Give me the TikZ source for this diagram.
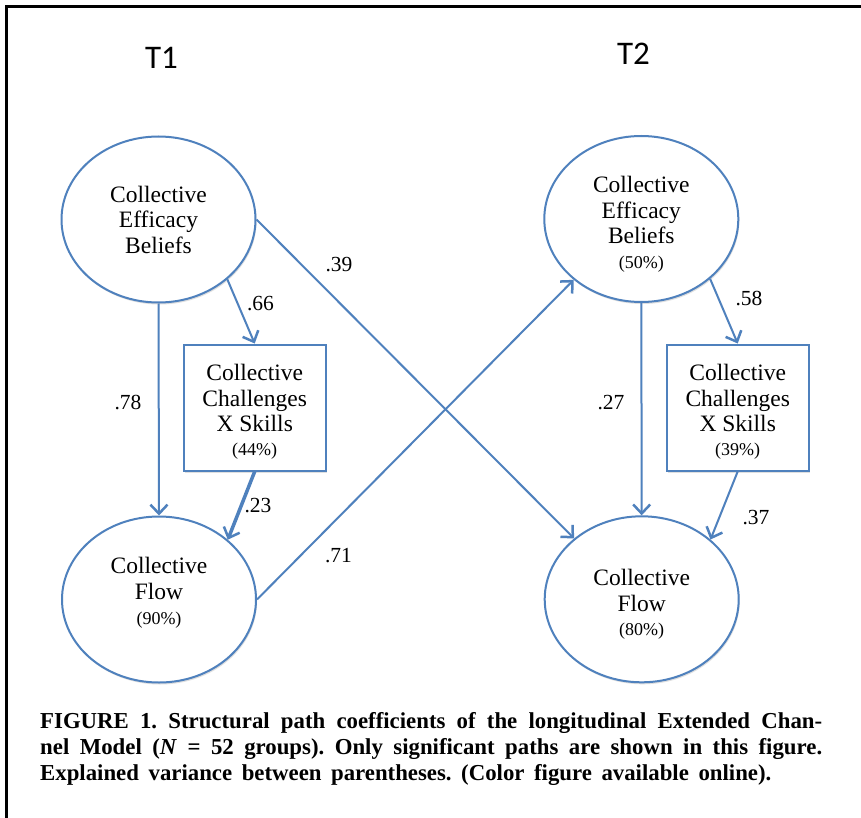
\documentclass[tikz,border=0pt]{standalone}
\usepackage{fontspec}
\setmainfont{Liberation Serif}
\newfontfamily\tfont{Carlito}
\usetikzlibrary{shapes.geometric,arrows.meta,shadows}
\definecolor{pathblue}{RGB}{79,129,189}
\begin{document}
\begin{tikzpicture}[x=1pt,y=-1pt,
  latent/.style={ellipse, draw=pathblue, line width=2pt, fill=white,
    minimum width=194pt, minimum height=166pt, inner sep=0pt, align=center,
    font=\fontsize{23.5}{25.5}\selectfont,
    drop shadow={shadow xshift=1pt, shadow yshift=-2pt, opacity=0.25}},
  observed/.style={rectangle, draw=pathblue, line width=2pt, fill=white,
    minimum width=142pt, minimum height=126pt, inner sep=0pt, align=center,
    font=\fontsize{23.5}{25.5}\selectfont,
    drop shadow={shadow xshift=1pt, shadow yshift=-2pt, opacity=0.25}},
  conn/.style={draw=pathblue, line width=2pt,
    -{Straight Barb[length=9pt,width=17pt,line width=2.5pt]}},
  thickconn/.style={conn, line width=3.5pt},
  coef/.style={font=\fontsize{21.5}{21.5}\selectfont, inner sep=0pt},
  timelabel/.style={font=\tfont\fontsize{33}{33}\selectfont, inner sep=0pt}
  ]
\useasboundingbox (0,0) rectangle (861,818);
\fill[white] (0,0) rectangle (861,818);
\draw[line width=3pt] (6.5,818) -- (6.5,6.5) -- (861,6.5);

\node[timelabel] (t1) at (161.5,57.5) {T1};
\node[timelabel] (t2) at (633.5,53.5) {T2};

\node[latent] (eff1) at (158.5,219.5) {Collective\\Efficacy\\Beliefs};
\node[latent] (flow1) at (159,599.5) {Collective\\Flow\\{\fontsize{18}{20}\selectfont (90\%)}\\[-9pt]};
\node[latent] (eff2) at (641.3,219) {\mbox{}\\[1pt]Collective\\Efficacy\\Beliefs\\[-1pt]{\fontsize{18}{20}\selectfont (50\%)}};
\node[latent] (flow2) at (641.7,599.3) {\mbox{}\\[1pt]Collective\\Flow\\[-1pt]{\fontsize{18}{20}\selectfont (80\%)}};

\node[observed] (cs1) at (254.7,407.5) {\mbox{}\\[-1pt]Collective\\Challenges\\X Skills\\[-2pt]{\fontsize{18}{20}\selectfont (44\%)}};
\node[observed] (cs2) at (737.7,407.5) {\mbox{}\\[-1pt]Collective\\Challenges\\X Skills\\[-2pt]{\fontsize{18}{20}\selectfont (39\%)}};

\draw[conn] (eff1.south) -- (flow1.north);
\draw[conn] (eff1.-41.5) -- (cs1.north);
\draw[thickconn] (cs1.south) -- (flow1.41.7);
\draw[conn] (eff1.east) -- (flow2.138.8);
\draw[conn] (flow1.east) -- (eff2.-138.8);
\draw[conn] (eff2.south) -- (flow2.north);
\draw[conn] (eff2.-41.7) -- (cs2.north);
\draw[conn] (cs2.south) -- (flow2.41.8);

\node[coef] (c39) at (339,265) {.39};
\node[coef] (c66) at (260.5,303.5) {.66};
\node[coef] (c78) at (128,403) {.78};
\node[coef] (c23) at (258,506) {.23};
\node[coef] (c71) at (338.5,556) {.71};
\node[coef] (c58) at (749,299) {.58};
\node[coef] (c27) at (611,403) {.27};
\node[coef] (c37) at (756,518) {.37};

\node[anchor=north west, inner sep=0pt, text width=782pt, align=justify,
  font=\bfseries\fontsize{22.8}{26}\selectfont] (cap) at (40,712)
  {\frenchspacing\hyphenpenalty=10000 FIGURE 1. Structural path coefficients of the longitudinal Extended Chan-\linebreak
  nel Model (\textit{N} = 52 groups). Only significant paths are shown in this figure.\linebreak
  \spaceskip=0.42em\relax Explained variance between parentheses. (Color figure available online).};
\end{tikzpicture}
\end{document}
